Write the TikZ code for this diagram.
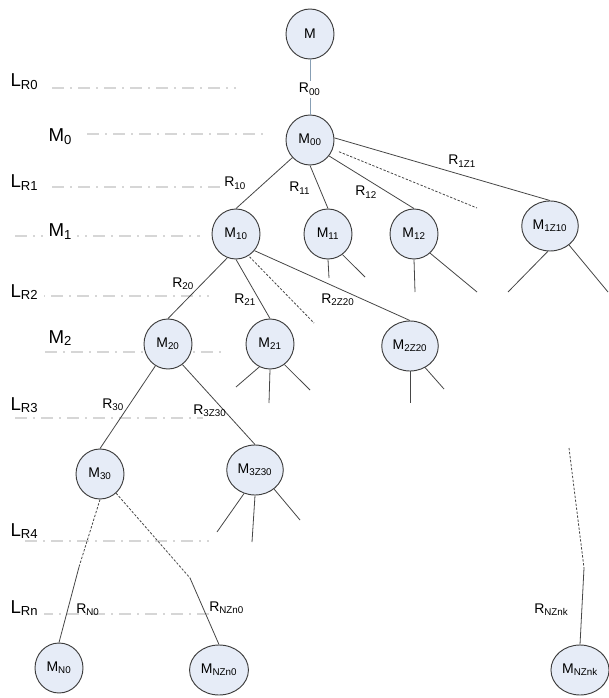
\documentclass[tikz,border=0pt]{standalone}
\usepackage{fontspec}
\setmainfont{Liberation Sans}
\usetikzlibrary{shapes.geometric}

\definecolor{nodefill}{RGB}{230,236,247}
\definecolor{nodeline}{RGB}{60,60,60}
\definecolor{edgeline}{RGB}{70,70,70}
\definecolor{levelgray}{RGB}{214,214,214}
\definecolor{rootedge}{RGB}{135,158,180}

\tikzset{
  mnode/.style={ellipse, draw=nodeline, fill=nodefill, line width=0.7pt, minimum width=36pt, minimum height=37.5pt, inner sep=2pt, font=\fontsize{10.5}{12}\selectfont},
  edge/.style={draw=edgeline, line width=0.6pt},
  gap/.style={edge, dash pattern=on 1.8pt off 1.2pt},
  rlabel/.style={font=\fontsize{10.5}{12}\selectfont, inner sep=0pt, anchor=base west},
  level/.style={font=\fontsize{14}{16}\selectfont, fill=white, inner sep=0pt, inner xsep=4pt, anchor=base west},
  levelline/.style={draw=levelgray, line width=0.9pt, dash pattern=on 9pt off 4.5pt on 1.5pt off 4.5pt}
}

\begin{document}
\begin{tikzpicture}[x=0.75pt, y=-0.75pt]
\useasboundingbox (0,0) rectangle (608,698);

\foreach \n/\t/\lx/\by/\ly/\xa/\xb in {lr0/L\textsubscript{R0}/5/87/88/52/236, m0/M\textsubscript{0}/43/142/134/87/264, lr1/L\textsubscript{R1}/5/188/187/52/225, m1/M\textsubscript{1}/43/237/236/15/200, lr2/L\textsubscript{R2}/5/297/296/25/209, m2/M\textsubscript{2}/43/343/352/45/227, lr3/L\textsubscript{R3}/5/410/418/15/203, lr4/L\textsubscript{R4}/5/536/541/25/209, lrn/L\textsubscript{Rn}/5/613/614/41/209}
{
  \draw[levelline] (\xa,\ly) -- (\xb,\ly);
  \node[level] (lev-\n) at (\lx,\by) {\t};
}

\node[mnode] (M) at (310,34) {M};
\node[mnode] (M00) at (310,140) {M\textsubscript{00}};
\node[mnode] (M10) at (236,234) {M\textsubscript{10}};
\node[mnode] (M11) at (328,234) {M\textsubscript{11}};
\node[mnode] (M12) at (414,234) {M\textsubscript{12}};
\node[mnode] (M1Z10) at (550,226) {M\textsubscript{1Z10}};
\node[mnode] (M20) at (168,344) {M\textsubscript{20}};
\node[mnode] (M21) at (270,344) {M\textsubscript{21}};
\node[mnode] (M2Z20) at (410,346) {M\textsubscript{2Z20}};
\node[mnode] (M30) at (100,474) {M\textsubscript{30}};
\node[mnode] (M3Z30) at (255,470) {M\textsubscript{3Z30}};
\node[mnode] (MN0) at (59,668) {M\textsubscript{N0}};
\node[mnode] (MNZn0) at (219,670) {M\textsubscript{NZn0}};
\node[mnode] (MNZnk) at (580,670) {M\textsubscript{NZnk}};

\coordinate (d00) at (477,208);
\coordinate (d10) at (314,323);
\coordinate (dnk) at (569,448);
\coordinate (b0) at (79,567);
\coordinate (bz) at (190,578);
\coordinate (bk) at (584,568);

\draw[draw=rootedge, line width=0.7pt] (M) -- (M00);
\draw[edge] (M00.225) -- (M10.north);
\draw[edge] (M00.south) -- (M11.north);
\draw[edge] (M00.-40) -- (M12.north);
\draw[edge] (M00.5) -- (M1Z10.north);
\draw[gap, shorten <=5pt] (M00.-22) -- (d00);
\draw[edge] (M10.-110) -- (M20.north);
\draw[edge] (M10.south) -- (M21.north);
\draw[gap, shorten <=1pt] (M10.-60) -- (d10);
\draw[edge] (M10.-42) -- (M2Z20.north);
\draw[edge] (M20.-120) -- (M30.north);
\draw[edge] (M20.-55) -- (M3Z30.north);
\draw[gap] (M30.south) -- (b0);
\draw[edge] (b0) -- (MN0.north);
\draw[gap] (M30.-50) -- (bz);
\draw[edge] (bz) -- (MNZn0.north);
\draw[gap] (dnk) -- (bk);
\draw[edge] (bk) -- (MNZnk.north);

\foreach \n/\a/\x/\y in {M11/south/329/278, M11/-55/365/277, M12/south/415/292, M12/-50/477/292, M1Z10/-95/508/292, M1Z10/-45/608/292, M21/-115/236/387, M21/south/269/403, M21/-55/310/390, M2Z20/south/410/403, M2Z20/-55/444/389, M3Z30/-115/217/532, M3Z30/south/252/542, M3Z30/-45/300/520}
  \draw[edge] (\n.\a) -- (\x,\y);

\node[rlabel, fill=white, inner sep=2pt] (R00) at (296,93) {R\textsubscript{00}};
\node[rlabel] (R10) at (224,187) {R\textsubscript{10}};
\node[rlabel] (R11) at (289,192) {R\textsubscript{11}};
\node[rlabel] (R12) at (355,196) {R\textsubscript{12}};
\node[rlabel] (R1Z1) at (448,165) {R\textsubscript{1Z1}};
\node[rlabel] (R20) at (172,287) {R\textsubscript{20}};
\node[rlabel] (R21) at (234,303) {R\textsubscript{21}};
\node[rlabel] (R2Z20) at (321,303) {R\textsubscript{2Z20}};
\node[rlabel] (R30) at (102,408) {R\textsubscript{30}};
\node[rlabel] (R3Z30) at (193,414) {R\textsubscript{3Z30}};
\node[rlabel] (RN0) at (76,613) {R\textsubscript{N0}};
\node[rlabel] (RNZn0) at (209,611) {R\textsubscript{NZn0}};
\node[rlabel] (RNZnk) at (534,613) {R\textsubscript{NZnk}};
\end{tikzpicture}
\end{document}
